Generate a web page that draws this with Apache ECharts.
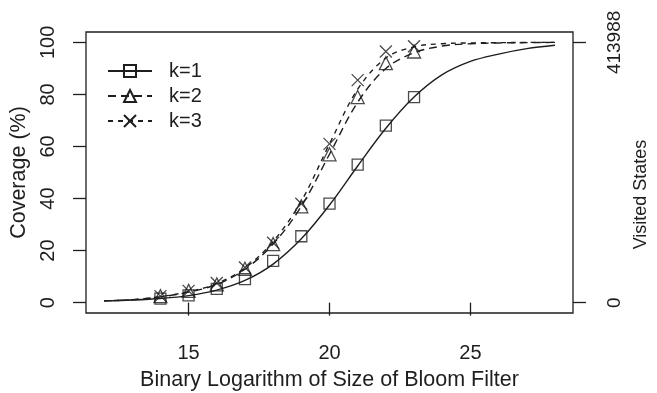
<!DOCTYPE html>
<html>
<head>
<meta charset="utf-8">
<script src="https://cdn.jsdelivr.net/npm/echarts@6/dist/echarts.min.js"></script>
<style>
html,body{margin:0;padding:0;background:#fff;}
#c{width:657px;height:393px;}
</style>
</head>
<body>
<div id="c"></div>
<script>
// ---- data ----
const curveX = [12, 13, 14, 15, 16, 17, 18, 19, 20, 21, 22, 23, 24, 25, 26, 27, 28];
const k1Curve = [0.65, 1.0, 1.6, 2.7, 4.8, 8.5, 14.8, 24.5, 37.5, 52.5, 67, 79, 87.6, 92.7, 95.5, 97.6, 98.9];
const k2Curve = [0.7, 1.1, 2.2, 4.0, 7.0, 12.8, 22.5, 37, 57, 77, 90, 96, 98.6, 99.5, 99.8, 99.9, 100];
const k3Curve = [0.7, 1.1, 2.3, 4.2, 7.3, 13.3, 23.5, 39, 61, 82, 94, 98.3, 99.5, 99.8, 99.9, 100, 100];

const markerX = [14, 15, 16, 17, 18, 19, 20, 21, 22, 23];
const k1Points = [1.5, 2.8, 5.3, 9, 16, 25.5, 38, 53, 68, 79];
const k2Points = [2.5, 4.5, 7, 13, 22.5, 37, 57, 79, 92, 96.5];
const k3Points = [2.5, 4.5, 7.5, 13.5, 23, 38, 61, 85.5, 96.5, 98.5];

const seriesNames = ['k=1', 'k=2', 'k=3'];
const xTicks = [15, 20, 25];
const yTicks = [0, 20, 40, 60, 80, 100];
const rightTicks = [0, 413988];
const xTitle = 'Binary Logarithm of Size of Bloom Filter';
const yTitle = 'Coverage (%)';
const rightTitle = 'Visited States';

// ---- styling ----
const ink = '#1e1e1e';
const font = 'Liberation Sans, Arial, Helvetica, sans-serif';
const fs = 20;
const ts = 21.5;
const sq = 'path://M0,0H10V10H0Z';
const tri = 'path://M5,0L10,9L0,9Z';
const crs = 'path://M0,0L10,10M10,0L0,10';
const symbols = [sq, tri, crs];
const symSizes = [11, 13, 12];
const dashes = ['solid', [8, 5], [5, 5]];
const curves = [k1Curve, k2Curve, k3Curve];
const points = [k1Points, k2Points, k3Points];

const zip = (xs, ys) => xs.map((x, i) => [x, ys[i]]);
const rightMax = rightTicks[1];

const series = [];
seriesNames.forEach((n, i) => {
  series.push({
    name: n, type: 'line', data: zip(curveX, curves[i]),
    smooth: 0.35, showSymbol: false, symbol: symbols[i], symbolSize: symSizes[i],
    lineStyle: {color: ink, width: 1.4, type: dashes[i]},
    itemStyle: {color: 'none', borderColor: ink, borderWidth: 1.3},
    emphasis: {disabled: true}, z: 2
  });
});
seriesNames.forEach((n, i) => {
  series.push({
    name: n + ' points', type: 'scatter', data: zip(markerX, points[i]),
    symbol: symbols[i], symbolSize: symSizes[i],
    itemStyle: {color: 'none', borderColor: ink, borderWidth: 1.3},
    emphasis: {disabled: true}, z: 3
  });
});

const chart = echarts.init(document.getElementById('c'));
chart.setOption({
  animation: false,
  backgroundColor: '#fff',
  textStyle: {fontFamily: font, color: ink},
  grid: {left: 86, right: 84, top: 32, bottom: 80, outerBoundsMode: 'none', containLabel: false,
    show: true, borderColor: ink, borderWidth: 1.3, backgroundColor: 'transparent'},
  legend: {
    data: seriesNames, orient: 'vertical', left: 102, top: 56,
    itemWidth: 44, itemHeight: 15, itemGap: 5,
    textStyle: {fontFamily: font, fontSize: 20, color: ink, padding: [0, 0, 0, 12]},
    selectedMode: false
  },
  xAxis: {
    type: 'value', min: 11.36, max: 28.64,
    name: xTitle, nameLocation: 'middle', nameGap: 56,
    nameTextStyle: {fontFamily: font, fontSize: ts, color: ink},
    axisLine: {show: false},
    axisTick: {show: true, length: 13, lineStyle: {color: ink, width: 1.3}, customValues: xTicks},
    axisLabel: {fontFamily: font, fontSize: fs, color: ink, margin: 30, customValues: xTicks},
    splitLine: {show: false}
  },
  yAxis: [{
    type: 'value', min: -4, max: 104, position: 'left',
    name: yTitle, nameLocation: 'middle', nameGap: 50, nameRotate: 90,
    nameTextStyle: {fontFamily: font, fontSize: ts, color: ink},
    axisLine: {show: false},
    axisTick: {show: true, length: 13, lineStyle: {color: ink, width: 1.3}, customValues: yTicks},
    axisLabel: {fontFamily: font, fontSize: fs, color: ink, margin: 28, rotate: 90, customValues: yTicks},
    splitLine: {show: false}
  }, {
    type: 'value', min: -0.04 * rightMax, max: 1.04 * rightMax, position: 'right',
    name: rightTitle, nameLocation: 'middle', nameGap: 52, nameRotate: 90,
    nameTextStyle: {fontFamily: font, fontSize: 18, color: ink, padding: [0, 44, 0, 0]},
    axisLine: {show: false},
    axisTick: {show: true, length: 13, lineStyle: {color: ink, width: 1.3}, customValues: rightTicks},
    axisLabel: {fontFamily: font, fontSize: 19, color: ink, margin: 32, rotate: 90, customValues: rightTicks,
      formatter: v => String(Math.round(v))},
    splitLine: {show: false}
  }],
  series: series
});
</script>
</body>
</html>
